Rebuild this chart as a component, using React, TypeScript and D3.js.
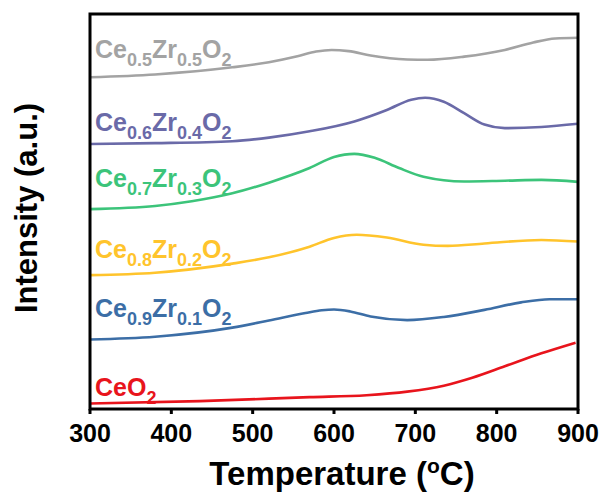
import React from "react";
import * as d3 from "d3";

// Temperature-programmed profiles (temperature in °C, intensity in a.u., stacked with offsets)
const tempCeO2 = [300, 435, 570, 640, 690, 735, 770, 810, 855, 897];
const intCeO2 = [1.4, 2.0, 3.0, 3.5, 4.4, 5.9, 7.9, 10.8, 14.1, 16.8];

const tempCe09 = [300, 380, 475, 520, 565, 585, 600, 620, 645, 690, 735, 785, 830, 865, 900];
const intCe09 = [17.6, 18.3, 20.6, 22.4, 24.3, 25.0, 25.2, 24.7, 23.4, 22.5, 23.3, 25.1, 27.0, 27.8, 27.8];

const tempCe08 = [300, 380, 475, 520, 570, 600, 628, 665, 710, 740, 785, 855, 900];
const intCe08 = [33.9, 34.5, 36.8, 38.4, 41.1, 43.3, 44.1, 43.4, 41.6, 41.3, 41.9, 42.8, 42.4];

const tempCe07 = [300, 380, 425, 475, 520, 570, 600, 625, 650, 680, 710, 760, 810, 855, 900];
const intCe07 = [50.6, 51.4, 52.6, 54.6, 57.3, 61.0, 63.8, 64.6, 63.6, 61.0, 58.8, 57.6, 57.8, 58.0, 57.5];

const tempCe06 = [300, 380, 475, 520, 570, 625, 665, 695, 712, 735, 760, 785, 810, 855, 900];
const intCe06 = [67.1, 67.3, 67.8, 68.7, 70.3, 72.8, 75.7, 78.3, 78.8, 77.8, 74.9, 72.0, 71.1, 71.4, 72.2];

const tempCe05 = [300, 380, 475, 520, 555, 578, 597, 618, 645, 690, 715, 760, 810, 845, 872, 900];
const intCe05 = [84.0, 84.7, 86.5, 87.8, 89.3, 90.5, 90.9, 90.6, 89.5, 88.5, 88.4, 89.2, 90.9, 92.8, 93.8, 94.0];

// Sample names as [text, isSubscript] pieces
const nameCeO2: [string, boolean][] = [["CeO", false], ["2", true]];
const nameCe09: [string, boolean][] = [["Ce", false], ["0.9", true], ["Zr", false], ["0.1", true], ["O", false], ["2", true]];
const nameCe08: [string, boolean][] = [["Ce", false], ["0.8", true], ["Zr", false], ["0.2", true], ["O", false], ["2", true]];
const nameCe07: [string, boolean][] = [["Ce", false], ["0.7", true], ["Zr", false], ["0.3", true], ["O", false], ["2", true]];
const nameCe06: [string, boolean][] = [["Ce", false], ["0.6", true], ["Zr", false], ["0.4", true], ["O", false], ["2", true]];
const nameCe05: [string, boolean][] = [["Ce", false], ["0.5", true], ["Zr", false], ["0.5", true], ["O", false], ["2", true]];

const seriesColors = ["#e8141c", "#3c6ea6", "#ffc42c", "#3cc47a", "#6a6aa8", "#a3a3a3"];
// Label baselines in intensity units
const labelLevels = [3.3, 23.3, 38.2, 56.2, 70.4, 88.8];

const xTicks = [300, 400, 500, 600, 700, 800, 900];

const W = 605;
const H = 493;
const margin = { left: 90, right: 27, top: 14, bottom: 84 };
const FONT = "'Liberation Sans', Arial, sans-serif";

export default function App() {
  const x = d3.scaleLinear().domain([300, 900]).range([margin.left, W - margin.right]);
  const y = d3.scaleLinear().domain([0, 100]).range([H - margin.bottom, margin.top]);

  const line = d3
    .line<[number, number]>()
    .x((d) => x(d[0]))
    .y((d) => y(d[1]))
    .curve(d3.curveMonotoneX);

  const series = [
    { t: tempCeO2, v: intCeO2, name: nameCeO2 },
    { t: tempCe09, v: intCe09, name: nameCe09 },
    { t: tempCe08, v: intCe08, name: nameCe08 },
    { t: tempCe07, v: intCe07, name: nameCe07 },
    { t: tempCe06, v: intCe06, name: nameCe06 },
    { t: tempCe05, v: intCe05, name: nameCe05 },
  ];

  const x0 = margin.left;
  const x1 = W - margin.right;
  const y0 = margin.top;
  const y1 = H - margin.bottom;

  return (
    <svg
      width={W}
      height={H}
      style={{ position: "absolute", left: 0, top: 0, background: "#fff" }}
      fontFamily={FONT}
    >
      <rect x={0} y={0} width={W} height={H} fill="#fff" />
      {series.map((s, i) => (
        <path
          key={"l" + i}
          d={line(s.t.map((t, k) => [t, s.v[k]] as [number, number])) || ""}
          fill="none"
          stroke={seriesColors[i]}
          strokeWidth={2.6}
          strokeLinejoin="round"
        />
      ))}
      {series.map((s, i) => (
        <text
          key={"t" + i}
          x={x0 + 5}
          y={y(labelLevels[i])}
          fill={seriesColors[i]}
          fontWeight="bold"
          fontSize={25}
        >
          {s.name.map(([txt, sub], k) => {
            const prevSub = k > 0 && s.name[k - 1][1];
            let dy = 0;
            if (sub && !prevSub) dy = 8;
            if (!sub && prevSub) dy = -8;
            return (
              <tspan key={k} dy={dy} fontSize={sub ? 18 : 25}>
                {txt}
              </tspan>
            );
          })}
        </text>
      ))}
      {/* frame */}
      <rect
        x={x0}
        y={y0}
        width={x1 - x0}
        height={y1 - y0}
        fill="none"
        stroke="#000"
        strokeWidth={3}
      />
      {/* bottom ticks */}
      {xTicks.map((t) => (
        <g key={t}>
          <line x1={x(t)} x2={x(t)} y1={y1} y2={y1 + 5} stroke="#000" strokeWidth={3} />
          <text
            x={x(t)}
            y={442}
            textAnchor="middle"
            fontSize={25}
            fontWeight="bold"
            fill="#000"
          >
            {t}
          </text>
        </g>
      ))}
      <text
        x={(x0 + x1) / 2 + 8}
        y={485}
        textAnchor="middle"
        fontSize={33}
        fontWeight="bold"
        fill="#000"
      >
        Temperature (
        <tspan fontSize={21} dy={-12}>
          o
        </tspan>
        <tspan dy={12}>C)</tspan>
      </text>
      <text
        transform={`translate(37,208) rotate(-90)`}
        textAnchor="middle"
        fontSize={31}
        fontWeight="bold"
        fill="#000"
      >
        Intensity (a.u.)
      </text>
    </svg>
  );
}
